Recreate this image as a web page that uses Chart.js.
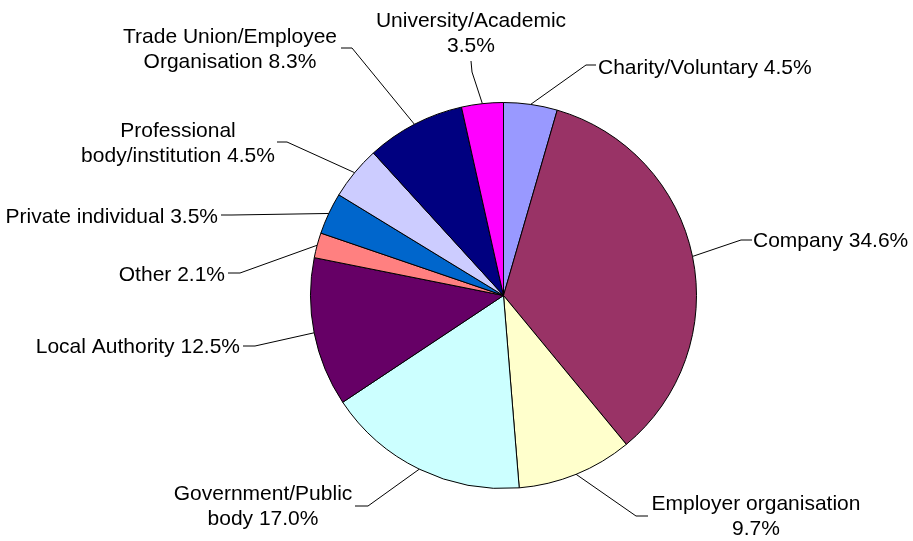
<!DOCTYPE html>
<html>
<head>
<meta charset="utf-8">
<title>Respondents by type of organisation</title>
<script src="https://cdn.jsdelivr.net/npm/chart.js@4.4.1/dist/chart.umd.min.js"></script>
<style>
  html, body { margin: 0; padding: 0; background: #fff; }
  #wrap { width: 913px; height: 541px; position: relative; }
</style>
</head>
<body>
<div id="wrap"><canvas id="pie"></canvas></div>
<script>
// respondent types, clockwise from 12 o'clock
var categories = [
    'Charity/Voluntary',
    'Company',
    'Employer organisation',
    'Government/Public body',
    'Local Authority',
    'Other',
    'Private individual',
    'Professional body/institution',
    'Trade Union/Employee Organisation',
    'University/Academic'
];
var shares = [4.5, 34.6, 9.7, 17.0, 12.5, 2.1, 3.5, 4.5, 8.3, 3.5];
var sliceColors = ['#9999FF', '#993366', '#FFFFCC', '#CCFFFF', '#660066',
                   '#FF8080', '#0066CC', '#CCCCFF', '#000080', '#FF00FF'];

// where each label sits: text anchor, first-line word count, leader elbow and tick end
var labelSpots = [
    { x: 598, y: 74,  align: 'left',   words: 9, elbow: [586, 65],  tick: [596, 65] },
    { x: 753, y: 247, align: 'left',   words: 9, elbow: [741, 240], tick: [752, 240] },
    { x: 756, y: 510, align: 'center', words: 2, elbow: [636, 516], tick: [648, 516] },
    { x: 263, y: 500, align: 'center', words: 1, elbow: [368, 506], tick: [355, 506] },
    { x: 240, y: 353, align: 'right',  words: 9, elbow: [255, 346], tick: [243, 346] },
    { x: 225, y: 281, align: 'right',  words: 9, elbow: [240, 273], tick: [228, 273] },
    { x: 218, y: 223, align: 'right',  words: 9, elbow: [232, 215], tick: [221, 215] },
    { x: 178, y: 137, align: 'center', words: 1, elbow: [287, 142], tick: [277, 142] },
    { x: 230, y: 43,  align: 'center', words: 2, elbow: [352, 48],  tick: [341, 48] },
    { x: 471, y: 27,  align: 'center', words: 1, elbow: [472, 72],  tick: [471, 61] }
];
var lineGap = 25;

// leader lines + wrapped labels around the pie
var outsideLabels = {
    id: 'outsideLabels',
    afterDraw: function (chart) {
        var ctx = chart.ctx;
        var arcs = chart.getDatasetMeta(0).data;
        ctx.save();
        ctx.font = '21px "Liberation Sans", Arial, sans-serif';
        ctx.fillStyle = '#000';
        ctx.strokeStyle = '#000';
        ctx.lineWidth = 1;
        arcs.forEach(function (arc, i) {
            var spot = labelSpots[i];
            var p = arc.getProps(['x', 'y', 'startAngle', 'endAngle', 'outerRadius'], true);
            var mid = (p.startAngle + p.endAngle) / 2;
            var ax = p.x + Math.cos(mid) * p.outerRadius;
            var ay = p.y + Math.sin(mid) * p.outerRadius;

            ctx.beginPath();
            ctx.moveTo(ax, ay);
            ctx.lineTo(spot.elbow[0], spot.elbow[1]);
            ctx.lineTo(spot.tick[0], spot.tick[1]);
            ctx.stroke();

            var words = (categories[i] + ' ' + shares[i].toFixed(1) + '%').split(' ');
            var lines = [words.slice(0, spot.words).join(' ')];
            if (words.length > spot.words) lines.push(words.slice(spot.words).join(' '));
            ctx.textAlign = spot.align;
            ctx.textBaseline = 'alphabetic';
            lines.forEach(function (ln, k) {
                ctx.fillText(ln, spot.x, spot.y + k * lineGap);
            });
        });
        ctx.restore();
    }
};

var ctx = document.getElementById('pie').getContext('2d');
var chart = new Chart(ctx, {
    type: 'pie',
    data: {
        labels: categories,
        datasets: [{
            data: shares,
            backgroundColor: sliceColors,
            borderColor: '#000',
            borderWidth: 1
        }]
    },
    options: {
        responsive: true,
        maintainAspectRatio: false,
        animation: false,
        layout: {
            padding: { left: 310, right: 216, top: 102, bottom: 52 }
        },
        plugins: {
            legend: { display: false },
            tooltip: { enabled: false }
        }
    },
    plugins: [outsideLabels]
});
</script>
</body>
</html>
